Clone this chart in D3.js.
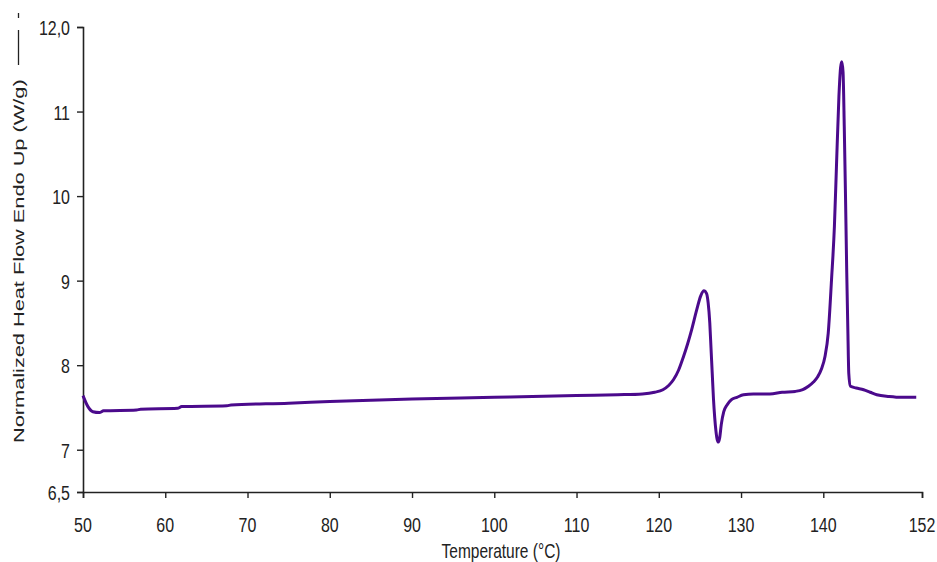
<!DOCTYPE html>
<html><head><meta charset="utf-8">
<script src="https://cdn.jsdelivr.net/npm/d3@7"></script>
<style>body{margin:0;background:#fff}svg{display:block}</style>
</head><body>
<svg id="c" width="937" height="562"></svg>
<script>
const temperature = [50.0,50.6,51.2,52.0,52.5,56.5,57,61.5,62,67.5,68,75,80,90,100,110,115,118,119.5,120.5,121.2,121.8,122.4,123.0,123.5,124.0,124.6,125.1,125.5,125.8,126.0,126.2,126.35,126.5,126.65,126.8,126.95,127.1,127.25,127.4,127.6,127.9,128.3,128.8,129.5,130.3,131.5,133.5,135,136.6,137.5,138.2,138.8,139.3,139.8,140.2,140.6,141.0,141.35,141.6,141.9,142.1,142.25,142.4,142.55,142.7,142.85,143.0,143.1,143.3,144.0,144.9,145.7,146.5,148.0,149.5,151.3];
const heatFlow = [7.64,7.51,7.45,7.44,7.46,7.47,7.48,7.49,7.51,7.52,7.53,7.55,7.57,7.60,7.62,7.64,7.65,7.66,7.68,7.71,7.76,7.83,7.94,8.10,8.25,8.42,8.65,8.82,8.88,8.85,8.74,8.50,8.20,7.90,7.60,7.38,7.22,7.12,7.09,7.14,7.30,7.45,7.53,7.59,7.62,7.65,7.66,7.66,7.68,7.69,7.71,7.75,7.80,7.86,7.96,8.10,8.38,9.01,9.64,10.35,11.18,11.52,11.59,11.47,10.82,10.0,9.1,8.34,7.9,7.75,7.73,7.71,7.68,7.65,7.63,7.62,7.62];
const xTicks = [50,60,70,80,90,100,110,120,130,140,152];
const yTicks = [6.5,7,8,9,10,11,12];
const yTickLabels = ["6,5","7","8","9","10","11","12,0"];
const xTitle = "Temperature (°C)";
const yTitle = "Normalized Heat Flow Endo Up (W/g)";

const svg = d3.select("#c");
const font = "Liberation Sans, Arial, sans-serif";
const x = d3.scaleLinear().domain([50,152]).range([83,922]);
const y = d3.scaleLinear().domain([6.5,12]).range([492,27]);

// axes
const xAxis = svg.append("g").attr("transform","translate(0,492)")
  .call(d3.axisBottom(x).tickValues(xTicks).tickSize(6).tickFormat(""));
const yAxis = svg.append("g").attr("transform","translate(83,0)")
  .call(d3.axisLeft(y).tickValues(yTicks).tickSize(6).tickFormat(""));
[xAxis,yAxis].forEach(g=>{
  g.select(".domain").attr("stroke","#222").attr("stroke-width",1.6);
  g.selectAll(".tick line").attr("stroke","#222").attr("stroke-width",1.4);
});

// tick labels (vertically stretched like the reference)
const sY = 1.32;
svg.append("g").selectAll("text").data(xTicks).join("text")
  .attr("transform", d=>`translate(${x(d)},532) scale(1,${sY})`)
  .attr("text-anchor","middle").attr("font-family",font).attr("font-size",16)
  .attr("fill","#222").text(d=>d);
svg.append("g").selectAll("text").data(yTicks).join("text")
  .attr("transform", d=>`translate(70,${y(d)+8}) scale(1,${sY})`)
  .attr("text-anchor","end").attr("font-family",font).attr("font-size",16)
  .attr("fill","#222").text((d,i)=>yTickLabels[i]);

// titles
svg.append("text").attr("transform",`translate(501,558) scale(1,${sY})`)
  .attr("text-anchor","middle").attr("font-family",font).attr("font-size",15.5)
  .attr("fill","#222").text(xTitle);
svg.append("text").attr("transform",`translate(24,443) rotate(-90) scale(1.45,1)`)
  .attr("text-anchor","start").attr("font-family",font).attr("font-size",15)
  .attr("fill","#222").text(yTitle);
svg.append("line").attr("x1",18.5).attr("x2",18.5).attr("y1",65).attr("y2",30)
  .attr("stroke","#222").attr("stroke-width",1.3);
svg.append("line").attr("x1",18.5).attr("x2",18.5).attr("y1",18).attr("y2",13)
  .attr("stroke","#222").attr("stroke-width",1.3);

// curve
const data = temperature.map((t,i)=>[t,heatFlow[i]]);
svg.append("path").datum(data)
  .attr("fill","none").attr("stroke","#4b0a8c").attr("stroke-width",3)
  .attr("stroke-linejoin","round")
  .attr("d", d3.line().x(d=>x(d[0])).y(d=>y(d[1])).curve(d3.curveMonotoneX));
</script>
</body></html>
